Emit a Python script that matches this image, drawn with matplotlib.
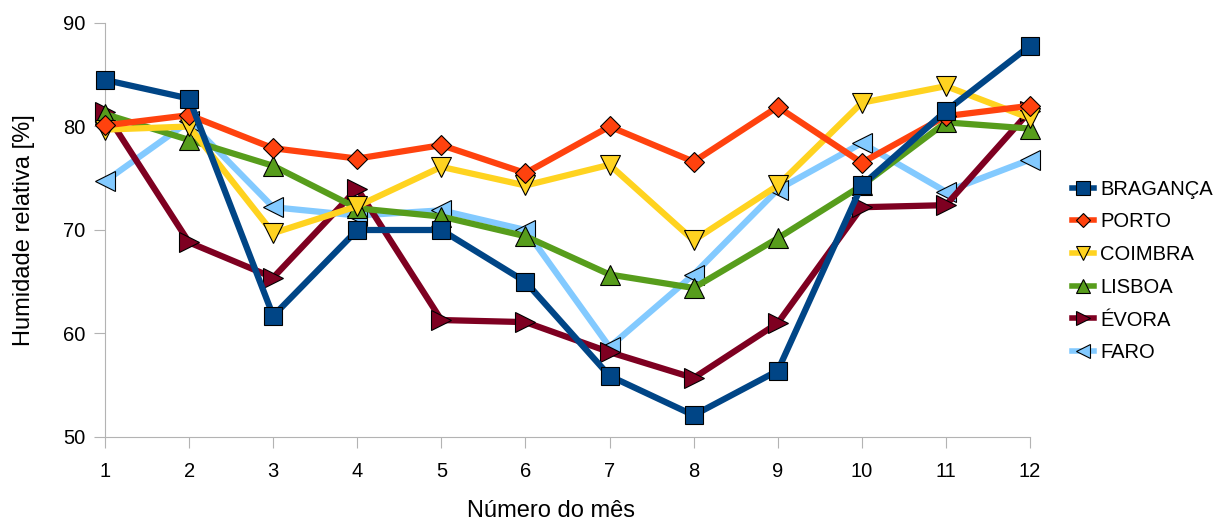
import matplotlib
matplotlib.use("Agg")
from matplotlib import pyplot as plt

plt.rcParams['font.family'] = ['Liberation Sans', 'DejaVu Sans']

#--- Data
months = [1, 2, 3, 4, 5, 6, 7, 8, 9, 10, 11, 12]

braganca = [84.5, 82.7, 61.7, 70.0, 70.0, 65.0, 55.9, 52.1, 56.4, 74.3, 81.5, 87.8]
porto = [80.1, 81.1, 77.9, 76.9, 78.2, 75.5, 80.0, 76.6, 81.9, 76.5, 81.0, 82.0]
coimbra = [79.7, 80.0, 69.7, 72.3, 76.1, 74.3, 76.3, 69.0, 74.3, 82.3, 83.9, 80.8]
lisboa = [81.2, 78.7, 76.2, 72.1, 71.3, 69.4, 65.7, 64.4, 69.2, 74.3, 80.4, 79.8]
evora = [81.4, 68.8, 65.4, 74.0, 61.3, 61.1, 58.2, 55.7, 61.0, 72.2, 72.4, 81.5]
faro = [74.7, 80.5, 72.2, 71.4, 71.9, 70.0, 58.7, 65.7, 73.9, 78.4, 73.7, 76.8]

series = [
    ("BRAGANÇA", braganca, "#004586", "s"),
    ("PORTO", porto, "#ff420e", "D"),
    ("COIMBRA", coimbra, "#ffd320", "v"),
    ("LISBOA", lisboa, "#579d1c", "^"),
    ("ÉVORA", evora, "#7e0021", ">"),
    ("FARO", faro, "#83caff", "<"),
]

#--- Plot
fig = plt.figure(figsize=(12.25, 5.24), dpi=100)
ax = fig.add_axes([105 / 1225, 1 - 437 / 524, 925 / 1225, 414 / 524])

# first series is drawn on top
for i, (name, values, color, marker) in enumerate(series):
    ms = 13 if marker == "s" else (10 if marker == "D" else 14)
    ax.plot(months, values, color=color, linewidth=4.5, marker=marker,
            markersize=ms, markeredgecolor="black", markeredgewidth=0.8,
            label=name, zorder=10 - i, clip_on=False)

ax.set_xlim(1, 12)
ax.set_ylim(50, 90)
ax.set_xticks(months)
ax.set_yticks([50, 60, 70, 80, 90])
ax.tick_params(axis="both", labelsize=14.5, color="#b3b3b3", length=8, direction="out")
ax.tick_params(axis="x", pad=10)
ax.tick_params(axis="y", pad=6)
for side in ["top", "right"]:
    ax.spines[side].set_visible(False)
for side in ["left", "bottom"]:
    ax.spines[side].set_color("#b3b3b3")

ax.set_xlabel("Número do mês", fontsize=17, labelpad=14)
ax.xaxis.label.set_x(0.482)
ax.set_ylabel("Humidade relativa [%]", fontsize=17, labelpad=20)

leg = fig.legend(loc="center left", bbox_to_anchor=(1072 / 1225, 1 - 271 / 524),
                 frameon=False, fontsize=14.5, handlelength=1.1, handletextpad=0.3,
                 labelspacing=0.68, borderaxespad=0, borderpad=0, markerscale=0.75)
for line in leg.get_lines():
    line.set_linewidth(4)

fig.savefig("out.png", dpi=100)
